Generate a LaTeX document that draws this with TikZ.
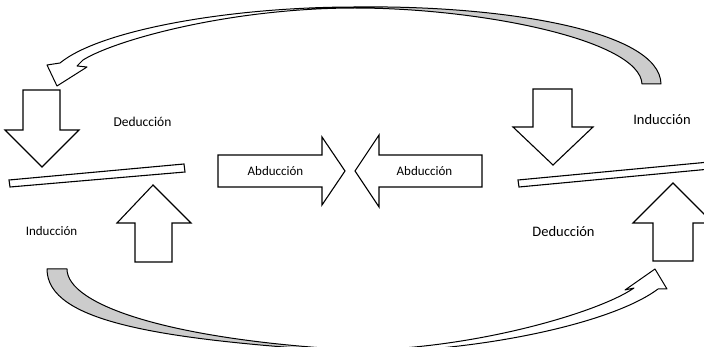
\documentclass[tikz,border=0pt]{standalone}
\usepackage{fontspec}
\setmainfont{Carlito}

\begin{document}
\begin{tikzpicture}[x=1pt,y=-1pt,
  bloque/.style={draw,fill=white,line width=1.1pt,line join=miter},
  banda/.style={draw,fill=white,line width=1pt,line join=round},
  reverso/.style={draw,fill=gray!40,line width=1pt,line join=round},
  etiqueta/.style={inner sep=0pt,font=\fontsize{13}{15}\selectfont}]
\useasboundingbox (0,0) rectangle (704,347);
\clip (0,0) rectangle (704,347);

% flecha curva superior
\path[reverso] (661,84) .. controls (660,30) and (500,5) .. (355,7)
  -- (355,8) .. controls (480,8) and (640,40) .. (642,84) -- cycle;
\path[banda] (355,7) .. controls (230,7) and (100,30) .. (60,63)
  -- (47,65) -- (57,86) -- (87,67) -- (77,66)
  -- (83,60) .. controls (115,40) and (230,8) .. (355,8) -- cycle;

% flecha curva inferior
\path[reverso] (47,269) .. controls (47,322) and (160,340) .. (355,352)
  -- (355,350) .. controls (170,340) and (67,305) .. (67,269) -- cycle;
\path[banda] (355,352) .. controls (470,353) and (610,325) .. (658,289)
  -- (667,289) -- (655,269) -- (625,290)
  -- (634,288) .. controls (598,313) and (470,350) .. (355,350) -- cycle;

% lado izquierdo
\draw[bloque] (23,90) -- (60,90) -- (60,130) -- (79,130) -- (42,167) -- (5,130) -- (23,130) -- cycle;
\draw[bloque] (9,180) -- (184,164) -- (185,172) -- (10,187) -- cycle;
\draw[bloque] (135,262) -- (172,262) -- (172,223) -- (191,223) -- (153,185) -- (117,223) -- (135,223) -- cycle;

% abduccion
\draw[bloque] (218,155) -- (322,155) -- (322,137) -- (345,171) -- (322,205) -- (322,187) -- (218,187) -- cycle;
\draw[bloque] (482,155) -- (379,155) -- (379,135) -- (355,171) -- (379,207) -- (379,187) -- (482,187) -- cycle;

% lado derecho
\draw[bloque] (533,89) -- (572,89) -- (572,127) -- (593,127) -- (553,165) -- (513,127) -- (533,127) -- cycle;
\draw[bloque] (518,180) -- (720,161) -- (721,168) -- (519,187) -- cycle;
\draw[bloque] (653,261) -- (693,261) -- (693,223) -- (713,223) -- (673,183) -- (633,223) -- (653,223) -- cycle;

\node[etiqueta,font=\fontsize{13.5}{15}\selectfont] (dedizq) at (142.5,122) {Deducción};
\node[etiqueta] (indizq) at (51.5,231) {Inducción};
\node[etiqueta] (abdder) at (275.5,171) {Abducción};
\node[etiqueta] (abdizq) at (424.5,171) {Abducción};
\node[etiqueta,font=\fontsize{14.5}{16}\selectfont] (indder) at (662,120) {Inducción};
\node[etiqueta,font=\fontsize{14.5}{16}\selectfont] (dedder) at (563.5,232) {Deducción};
\end{tikzpicture}
\end{document}
